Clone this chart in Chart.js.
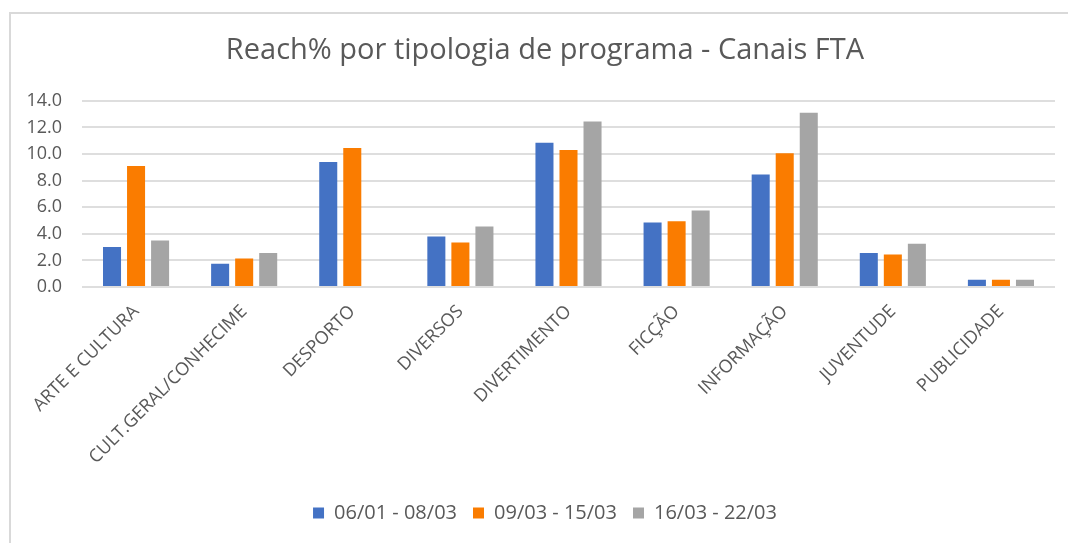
<!DOCTYPE html>
<html>
<head>
<meta charset="utf-8">
<script src="https://cdn.jsdelivr.net/npm/chart.js@4"></script>
<style>
  html, body { margin: 0; padding: 0; background: #ffffff; }
  #wrap { width: 1068px; height: 543px; position: relative; overflow: hidden; }
</style>
</head>
<body>
<div id="wrap"><canvas id="c" width="1068" height="543"></canvas></div>
<script>
const categories = ["ARTE E CULTURA", "CULT.GERAL/CONHECIME", "DESPORTO", "DIVERSOS", "DIVERTIMENTO", "FICÇÃO", "INFORMAÇÃO", "JUVENTUDE", "PUBLICIDADE"];
const seriesNames = ["06/01 - 08/03", "09/03 - 15/03", "16/03 - 22/03"];
const series1 = [3.0, 1.75, 9.4, 3.8, 10.85, 4.85, 8.45, 2.55, 0.55];
const series2 = [9.1, 2.15, 10.45, 3.35, 10.3, 4.95, 10.05, 2.45, 0.55];
const series3 = [3.5, 2.55, null, 4.55, 12.45, 5.75, 13.1, 3.25, 0.55];
const yTicks = [0, 2, 4, 6, 8, 10, 12, 14];
const titleText = "Reach% por tipologia de programa - Canais FTA";

const colors = ["#4472C4", "#FA7C00", "#A5A5A5"];
const FONT = "'Open Sans', 'Noto Sans', sans-serif";
const TXT = "#595959";

const frame = {
  id: 'frame',
  beforeDraw(chart) {
    const ctx = chart.ctx;
    ctx.save();
    ctx.fillStyle = '#ffffff';
    ctx.fillRect(0, 0, chart.width, chart.height);
    ctx.strokeStyle = '#d9d9d9';
    ctx.lineWidth = 2;
    ctx.beginPath();
    ctx.moveTo(10, chart.height);
    ctx.lineTo(10, 13);
    ctx.lineTo(chart.width, 13);
    ctx.stroke();
    ctx.restore();
  }
};

new Chart(document.getElementById('c'), {
  type: 'bar',
  data: {
    labels: categories,
    datasets: [series1, series2, series3].map((d, i) => ({
      label: seriesNames[i],
      data: d,
      backgroundColor: colors[i],
      borderWidth: 0,
      categoryPercentage: 0.667,
      barPercentage: 0.75,
      yAxisID: 'y'
    }))
  },
  options: {
    responsive: false,
    animation: false,
    devicePixelRatio: 1,
    layout: { padding: { left: 0, right: -22, top: 0, bottom: 10 } },
    plugins: {
      title: {
        display: true,
        text: titleText,
        color: TXT,
        font: { family: FONT, size: 29, weight: 'normal', lineHeight: 1.2 },
        padding: { top: 33.5, bottom: 32.5 }
      },
      legend: {
        position: 'bottom',
        labels: {
          color: TXT,
          font: { family: FONT, size: 20 },
          boxWidth: 11,
          boxHeight: 11,
          padding: 16
        }
      },
      tooltip: { enabled: false }
    },
    scales: {
      x: {
        grid: { display: false },
        border: { display: false },
        ticks: {
          color: TXT,
          font: { family: FONT, size: 18 },
          minRotation: 45,
          maxRotation: 45,
          autoSkip: false,
          padding: 6
        },
        afterFit(scale) { scale.height = 200; }
      },
      y: {
        min: 0,
        max: 14,
        afterBuildTicks(scale) { scale.ticks = yTicks.map(v => ({ value: v })); },
        grid: { color: '#dedede', lineWidth: 2, drawTicks: false },
        border: { display: false },
        ticks: {
          color: TXT,
          font: { family: FONT, size: 18 },
          padding: 20,
          callback: v => Number(v).toFixed(1)
        },
        afterFit(scale) { scale.width = 82; }
      },
      yRight: {
        position: 'right',
        min: 0,
        max: 14,
        grid: { display: false, drawTicks: false },
        border: { display: false },
        ticks: { display: false },
        afterFit(scale) { scale.width = 35; }
      }
    }
  },
  plugins: [frame]
});
</script>
</body>
</html>
